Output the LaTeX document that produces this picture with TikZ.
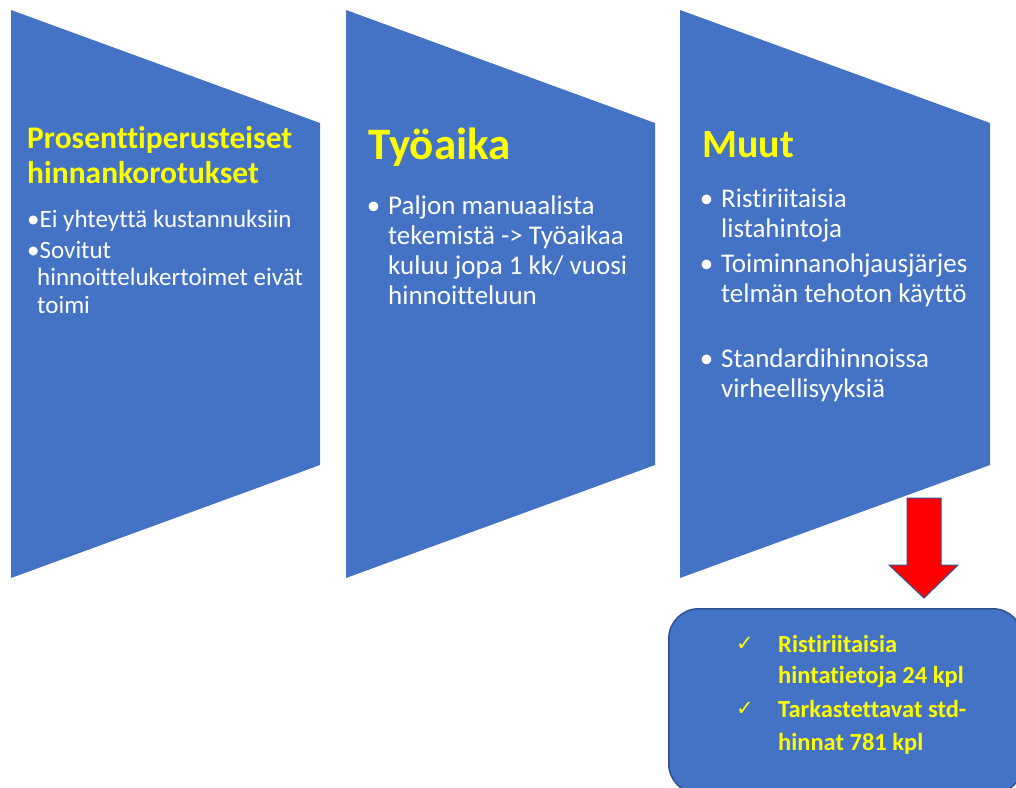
\documentclass[tikz,border=0pt]{standalone}
\usepackage{fontspec}
\setmainfont{Carlito}[Ligatures=NoCommon]
\newfontfamily\checkfont{DejaVu Sans}
\usetikzlibrary{positioning}
\definecolor{ppblue}{HTML}{4472C4}
\definecolor{ppedge}{HTML}{2F528F}
\definecolor{ppyellow}{HTML}{FFFF00}

\begin{document}
\begin{tikzpicture}
    [x=1pt,y=-1pt,
     panel/.style={fill=ppblue},
     head/.style={anchor=base west,inner sep=0pt,text=ppyellow,align=left},
     body/.style={anchor=base west,inner sep=0pt,text=white,align=left},
     result/.style={rectangle,rounded corners=30pt,fill=ppblue,draw=ppedge,line width=1.5pt,anchor=north west,minimum width=354pt,minimum height=185pt},
     tick/.style={anchor=base west,inner sep=0pt,text=ppyellow,font=\checkfont\fontsize{21}{24}\selectfont}]
    \useasboundingbox (0,0) rectangle (1016,787);
    \clip (0,0) rectangle (1016,787);

    % the three wedges
    \fill[panel] (11,10) -- (320,123) -- (320,465) -- (11,578) -- cycle;
    \fill[panel] (346,10) -- (655,123) -- (655,465) -- (346,578) -- cycle;
    \fill[panel] (680,10) -- (990,123) -- (990,465) -- (680,578) -- cycle;

    % first column (multi-line nodes sit on their last line)
    \node[head,font=\bfseries\fontsize{31.5}{35}\selectfont] (pros) at (27,183) {Prosenttiperusteiset\\hinnankorotukset};
    \node[body,font=\fontsize{25}{27.5}\selectfont] (ei) at (27,227) {•Ei yhteyttä kustannuksiin};
    \node[body,font=\fontsize{25}{27.5}\selectfont] (sov) at (27,313) {•Sovitut\\\hspace*{10pt}hinnoittelukertoimet eivät\\\hspace*{10pt}toimi};

    % second column
    \node[head,font=\bfseries\fontsize{45}{50}\selectfont] (tyo) at (368,159) {Työaika};
    \node[body,font=\fontsize{27}{29.7}\selectfont] (paljon) at (388,304) {\llap{•\hspace{8pt}}Paljon manuaalista\\tekemistä -> Työaikaa\\kuluu jopa 1 kk/ vuosi\\hinnoitteluun};

    % third column
    \node[head,font=\bfseries\fontsize{40}{48}\selectfont] (muut) at (702,157) {Muut};
    \node[body,font=\fontsize{27}{30}\selectfont] (rist) at (721,237) {\llap{•\hspace{8pt}}Ristiriitaisia\\listahintoja};
    \node[body,font=\fontsize{27}{30}\selectfont] (toim) at (721,302) {\llap{•\hspace{8pt}}Toiminnanohjausjärjes\\telmän tehoton käyttö};
    \node[body,font=\fontsize{27}{30}\selectfont] (std) at (721,397) {\llap{•\hspace{8pt}}Standardihinnoissa\\virheellisyyksiä};

    % red arrow down to the result box
    \draw[fill=red,draw=ppedge,line width=1pt,line join=miter]
      (907,498) -- (941,498) -- (941,565) -- (958,565) -- (924,598) -- (889,565) -- (907,565) -- cycle;

    \node[result] (box) at (668,608) {};
    \node[tick] (t1) at (736,650) {✓};
    \node[tick] (t2) at (736,715) {✓};
    \node[head,font=\bfseries\fontsize{24.5}{31}\selectfont] (hinta) at (778,683) {Ristiriitaisia\\hintatietoja 24 kpl};
    \node[head,font=\bfseries\fontsize{24.5}{33}\selectfont] (tark) at (778,750) {Tarkastettavat std-\\hinnat 781 kpl};
\end{tikzpicture}
\end{document}
